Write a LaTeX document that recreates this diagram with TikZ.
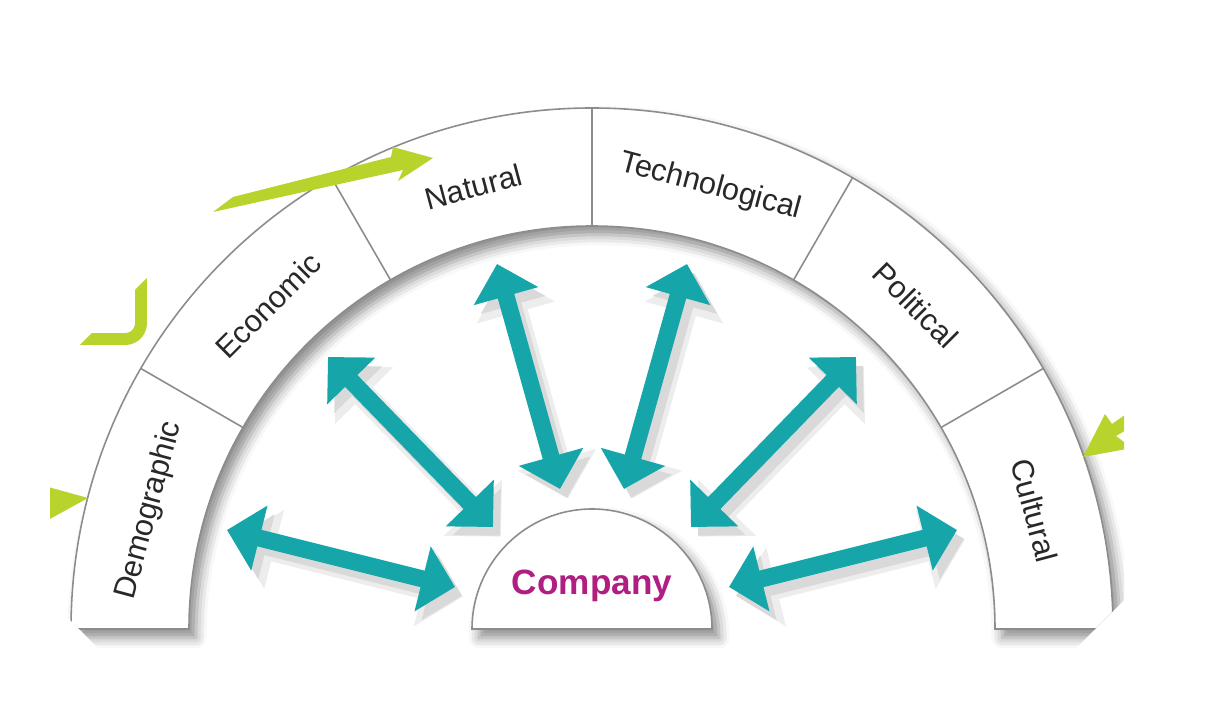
\documentclass[tikz,border=0pt]{standalone}
\usepackage{fontspec}
\setmainfont{Liberation Sans}
\usetikzlibrary{arrows.meta,shadows.blur}
\definecolor{arrowteal}{RGB}{22,166,170}
\definecolor{factorgreen}{RGB}{184,212,44}
\definecolor{companypink}{RGB}{176,30,130}
\definecolor{bandgray}{RGB}{140,140,140}
\definecolor{labelgray}{RGB}{40,40,40}
\tikzset{
  band/.style={fill=white, draw=bandgray, line width=0.9pt,
    blur shadow={shadow xshift=4pt, shadow yshift=-5pt, shadow blur radius=6pt, shadow opacity=45}},
  divider/.style={draw=bandgray, line width=0.9pt},
  seglabel/.style={font=\fontsize{17.5}{20}\selectfont, text=labelgray, inner sep=0pt},
  companytext/.style={font=\fontsize{20}{23}\selectfont\bfseries, text=companypink, inner sep=0pt},
  biarrow/.style={draw=arrowteal, line width=9.7pt,
    {Triangle[width=37pt,length=19pt]}-{Triangle[width=37pt,length=19pt]}},
  arrowshade/.style={draw=black!7, line width=14pt,
    {Triangle[width=45pt,length=23pt]}-{Triangle[width=45pt,length=23pt]}},
  arrowshadecore/.style={draw=black!15, line width=9.7pt,
    {Triangle[width=37pt,length=19pt]}-{Triangle[width=37pt,length=19pt]}},
  greenbit/.style={fill=factorgreen, draw=none},
  greenline/.style={draw=factorgreen, line width=6.8pt, rounded corners=9pt}
}
\begin{document}
\begin{tikzpicture}[x=0.02cm, y=0.02cm]
\useasboundingbox (0,0) rectangle (1227,710);
\begin{scope}
\clip (50,335) -- (425,710) -- (749,710) -- (1124,335) -- (1124,110) -- (1064,50) -- (110,50) -- (50,110) -- cycle;

\begin{scope}[shift={(592,81)}]
  % the band of six forces
  \path[band] (180:521) arc[start angle=180, end angle=0, radius=521]
    -- (0:403) arc[start angle=0, end angle=180, radius=403] -- cycle;
  \foreach \a in {30,60,...,150}
    \draw[divider] (\a:403) -- (\a:521);
  \foreach \a/\t/\n in {165/Demographic/demo, 135/Economic/econ, 105/Natural/natu,
                        75/Technological/tech, 45/Political/poli, 15/Cultural/cult}
    \node[seglabel, rotate=\a-90] (\n) at (\a:458) {\t};

  % the company
  \path[band] (-120,0) arc[start angle=180, end angle=0, radius=120] -- cycle;
  \node[companytext, anchor=base] (company) at (0,34) {Company};

  \coordinate (demo-out) at (-365,99);  \coordinate (demo-in) at (-137,42);
  \coordinate (econ-out) at (-264,272); \coordinate (econ-in) at (-99,102);
  \coordinate (natu-out) at (-95,365);  \coordinate (natu-in) at (-32,140);
  \coordinate (tech-out) at (95,365);   \coordinate (tech-in) at (32,140);
  \coordinate (poli-out) at (264,272);  \coordinate (poli-in) at (99,102);
  \coordinate (cult-out) at (365,99);   \coordinate (cult-in) at (137,42);
\end{scope}

\foreach \n in {demo,econ,natu,tech,poli,cult}
  \draw[arrowshade] ([xshift=4.5pt,yshift=-5.5pt]\n-out) -- ([xshift=4.5pt,yshift=-5.5pt]\n-in);
\foreach \n in {demo,econ,natu,tech,poli,cult}
  \draw[arrowshadecore] ([xshift=4pt,yshift=-5pt]\n-out) -- ([xshift=4pt,yshift=-5pt]\n-in);
\foreach \n in {demo,econ,natu,tech,poli,cult}
  \draw[biarrow] (\n-out) -- (\n-in);

% green arrows round the outside
\fill[greenbit] (213,498) -- (233,513) -- (391,553) -- (393,563) -- (433,552) -- (398,529) -- (403,540) -- cycle;
\draw[greenline] (60,371) -- (141,371) -- (141,450);
\fill[greenbit] (30,228) -- (88,212) -- (30,180) -- cycle;
\fill[greenbit] (1083,253) -- (1132,262) -- (1116,274) -- (1140,288) -- (1132,300) -- (1112,286) -- (1105,296) -- cycle;
\end{scope}
\end{tikzpicture}
\end{document}
